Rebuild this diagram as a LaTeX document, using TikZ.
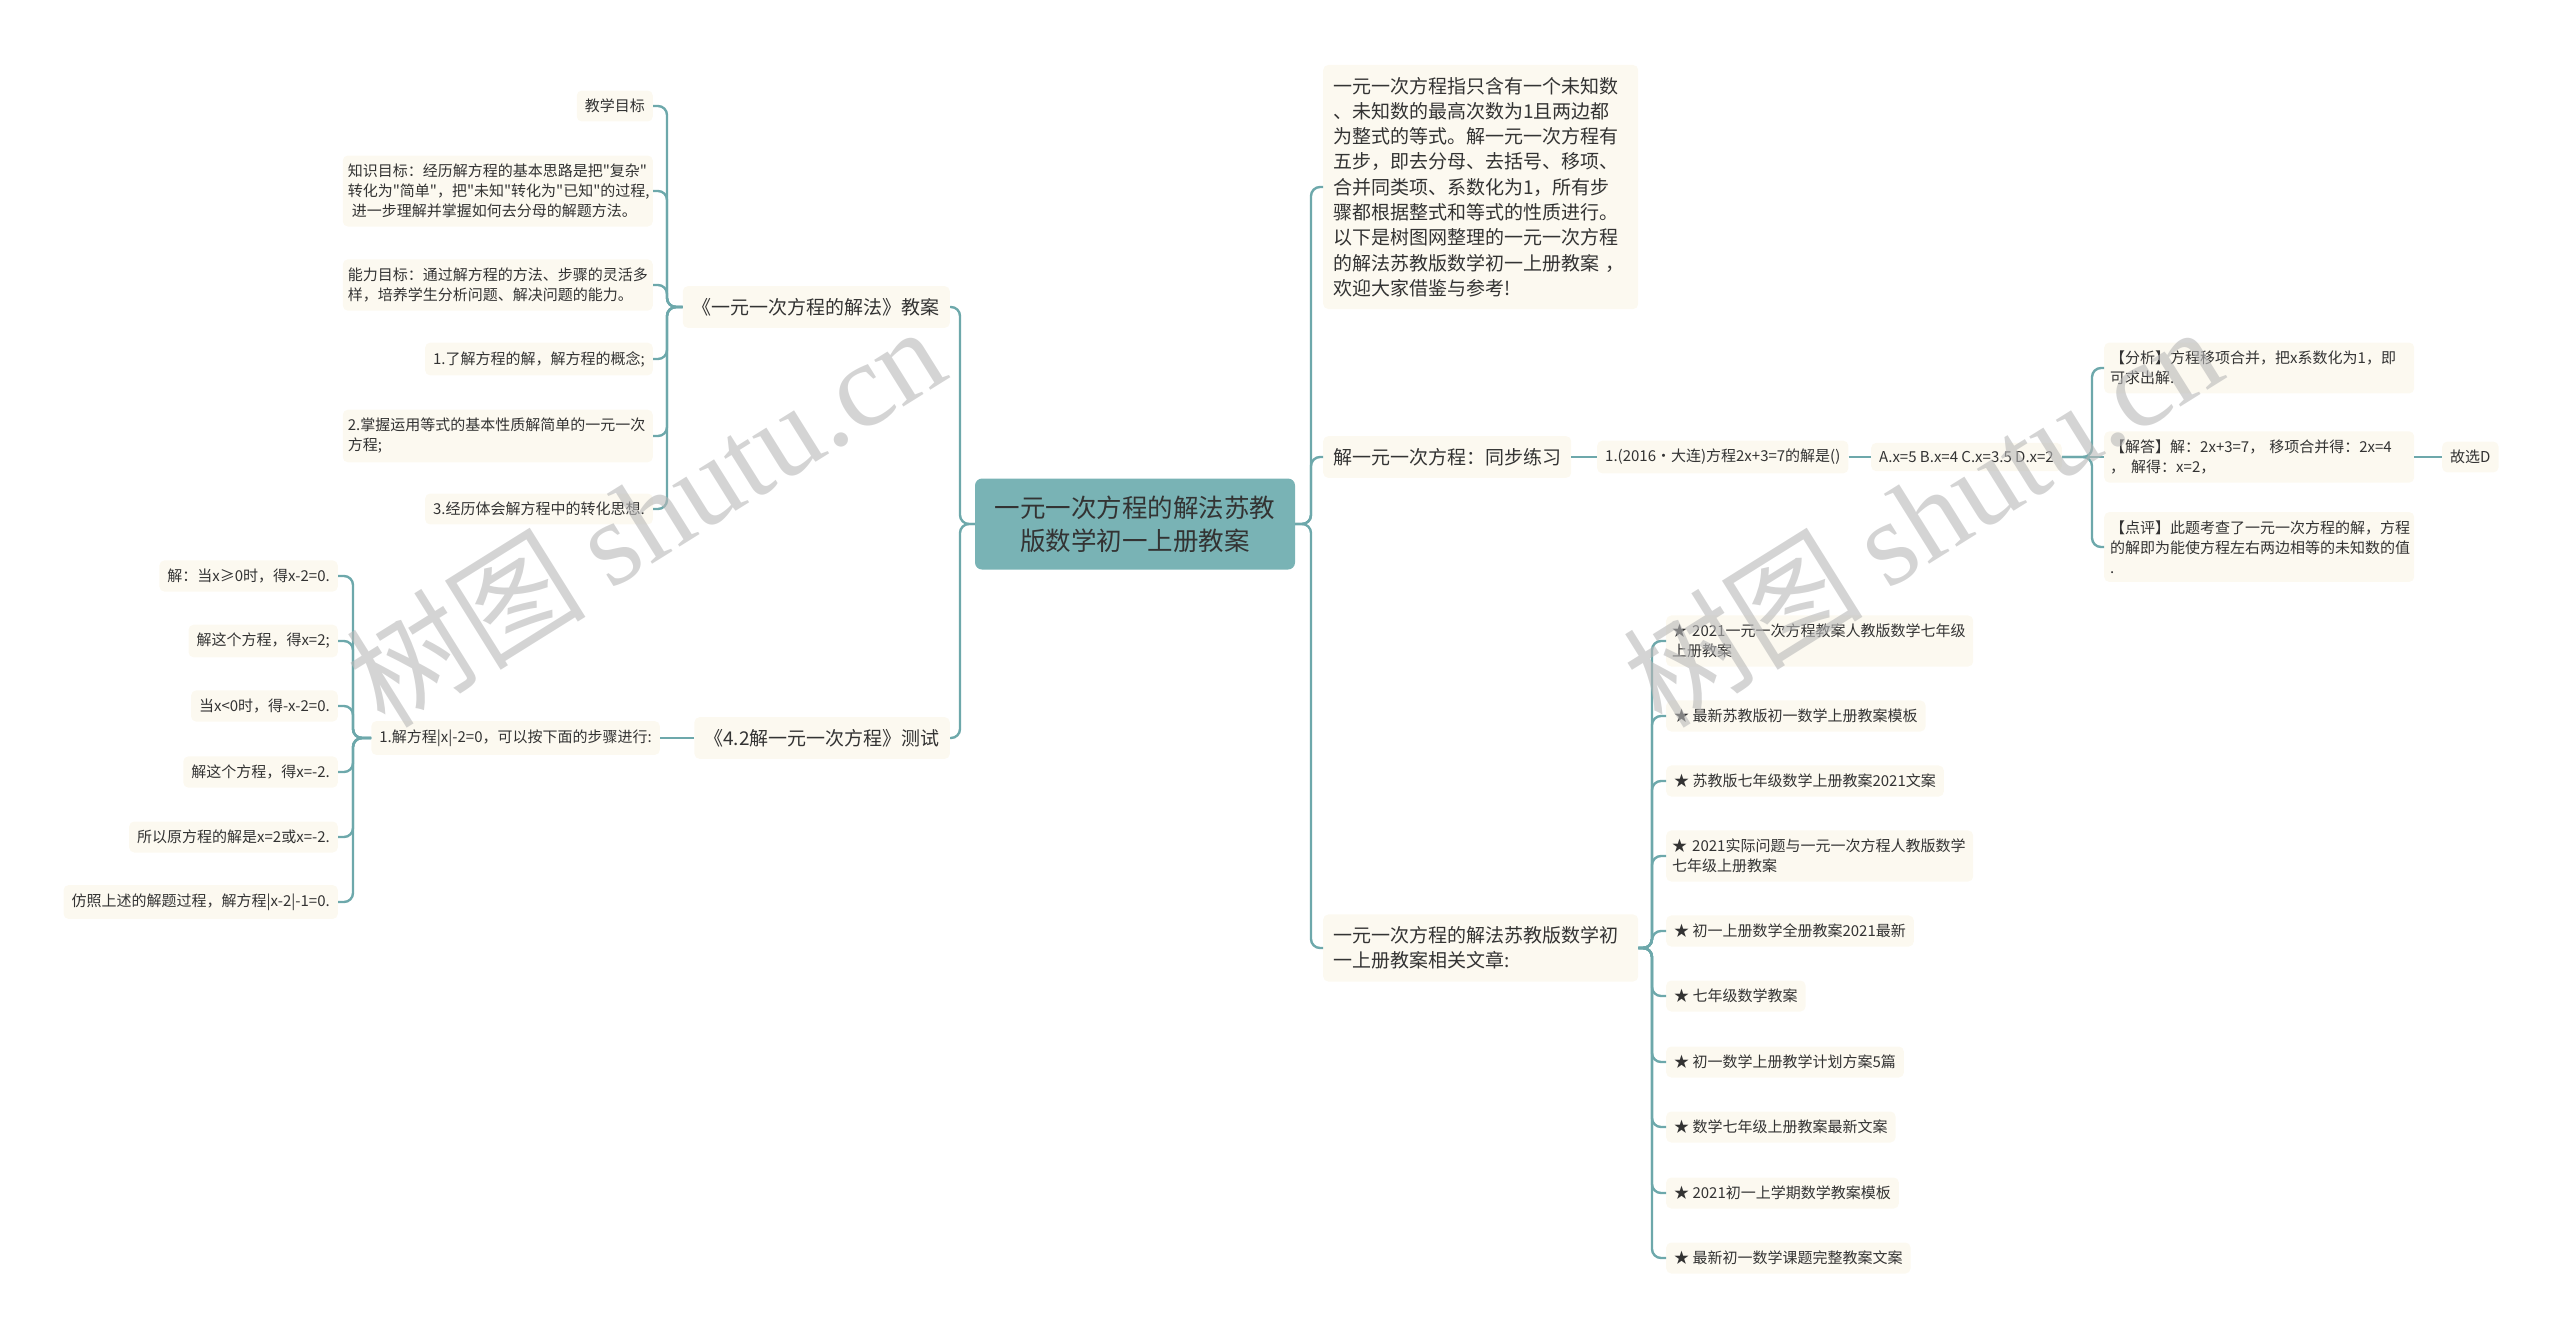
\documentclass[tikz,border=0pt]{standalone}
\usepackage{fontspec}
\newfontfamily\cjk{Noto Sans CJK SC}
\newfontfamily\wmserif{Liberation Serif}
\definecolor{lnk}{HTML}{6DA8AB}
\definecolor{nodefill}{HTML}{FCF9F0}
\definecolor{rootfill}{HTML}{79B3B5}
\definecolor{txt}{HTML}{333333}
\definecolor{wmgray}{HTML}{B8B8B8}
\tikzset{
  conn/.style={draw=lnk, line width=2.4pt, rounded corners=9pt},
  box/.style={fill=nodefill, rounded corners=5pt, text=txt, align=left, inner xsep=8pt, inner ysep=8.5pt, font=\cjk\fontsize{15}{20}\selectfont},
  widebox/.style={box, text width=300pt, inner xsep=5pt},
  midbox/.style={box, inner xsep=10pt, inner ysep=12pt, font=\cjk\fontsize{19}{25.3}\selectfont},
  rootbox/.style={fill=rootfill, rounded corners=7pt, text=txt, align=center, minimum width=320pt, minimum height=91pt, font=\cjk\fontsize{25.5}{33}\selectfont},
  wm/.style={text=wmgray, opacity=0.6, inner sep=0pt, font=\fontsize{120}{120}\selectfont}
}
\begin{document}
\begin{tikzpicture}[x=1pt,y=-1pt]
\useasboundingbox (0,0) rectangle (2560,1339);

% root
\node[rootbox] (root) at (1135,524) {一元一次方程的解法苏教\\版数学初一上册教案};

% left side
\node[midbox, anchor=east] (b1) at (950,307) {《一元一次方程的解法》教案};
\node[midbox, anchor=east] (b2) at (950,738) {《4.2解一元一次方程》测试};

\node[box, anchor=east] (k1) at (653,106) {教学目标};
\node[widebox, anchor=east] (k2) at (653,191) {知识目标：经历解方程的基本思路是把"复杂"\\转化为"简单"，把"未知"转化为"已知"的过程,\\\hspace*{4pt}进一步理解并掌握如何去分母的解题方法。};
\node[widebox, anchor=east] (k3) at (653,285) {能力目标：通过解方程的方法、步骤的灵活多\\样，培养学生分析问题、解决问题的能力。};
\node[box, anchor=east] (k4) at (653,359) {1.了解方程的解，解方程的概念;};
\node[widebox, anchor=east] (k5) at (653,436) {2.掌握运用等式的基本性质解简单的一元一次\\方程;};
\node[box, anchor=east] (k6) at (653,509) {3.经历体会解方程中的转化思想.};

\node[box, anchor=east] (c) at (660,738) {1.解方程|x|-2=0，可以按下面的步骤进行:};
\node[box, anchor=east] (m1) at (338,576) {解：当x≥0时，得x-2=0.};
\node[box, anchor=east] (m2) at (338,641) {解这个方程，得x=2;};
\node[box, anchor=east] (m3) at (338,706) {当x<0时，得-x-2=0.};
\node[box, anchor=east] (m4) at (338,772) {解这个方程，得x=-2.};
\node[box, anchor=east] (m5) at (338,837) {所以原方程的解是x=2或x=-2.};
\node[box, anchor=east] (m6) at (338,902) {仿照上述的解题过程，解方程|x-2|-1=0.};

% right side
\node[midbox, anchor=west, text width=295pt] (p) at (1323,187) {一元一次方程指只含有一个未知数\\、未知数的最高次数为1且两边都\\为整式的等式。解一元一次方程有\\五步，即去分母、去括号、移项、\\合并同类项、系数化为1，所有步\\骤都根据整式和等式的性质进行。\\以下是树图网整理的一元一次方程\\的解法苏教版数学初一上册教案 ，\\欢迎大家借鉴与参考!};
\node[midbox, anchor=west] (s) at (1323,457) {解一元一次方程：同步练习};
\node[box, anchor=west] (q1) at (1597,457) {1.(2016•大连)方程2x+3=7的解是()};
\node[box, anchor=west] (q2) at (1871,457) {A.x=5 B.x=4 C.x=3.5 D.x=2};
\node[box, anchor=west, text width=298pt, inner xsep=6pt] (a1) at (2104,368) {【分析】方程移项合并，把x系数化为1，即\\可求出解.};
\node[box, anchor=west, text width=298pt, inner xsep=6pt] (a2) at (2104,457) {【解答】解：2x+3=7， 移项合并得：2x=4\\，\hspace{6pt}解得：x=2，};
\node[box, anchor=west, text width=298pt, inner xsep=6pt] (a3) at (2104,547) {【点评】此题考查了一元一次方程的解，方程\\的解即为能使方程左右两边相等的未知数的值\\.};
\node[box, anchor=west] (gx) at (2442,457) {故选D};

\node[midbox, anchor=west, text width=295pt] (r) at (1323,948) {一元一次方程的解法苏教版数学初\\一上册教案相关文章:};
\node[box, anchor=west, text width=295pt, inner xsep=6pt] (t1) at (1666,641) {★ 2021一元一次方程教案人教版数学七年级\\上册教案};
\node[box, anchor=west] (t2) at (1666,716) {★ 最新苏教版初一数学上册教案模板};
\node[box, anchor=west] (t3) at (1666,781) {★ 苏教版七年级数学上册教案2021文案};
\node[box, anchor=west, text width=295pt, inner xsep=6pt] (t4) at (1666,856) {★ 2021实际问题与一元一次方程人教版数学\\七年级上册教案};
\node[box, anchor=west] (t5) at (1666,931) {★ 初一上册数学全册教案2021最新};
\node[box, anchor=west] (t6) at (1666,996) {★ 七年级数学教案};
\node[box, anchor=west] (t7) at (1666,1062) {★ 初一数学上册教学计划方案5篇};
\node[box, anchor=west] (t8) at (1666,1127) {★ 数学七年级上册教案最新文案};
\node[box, anchor=west] (t9) at (1666,1193) {★ 2021初一上学期数学教案模板};
\node[box, anchor=west] (t10) at (1666,1258) {★ 最新初一数学课题完整教案文案};

% spines
\coordinate (sL) at (960,0);
\coordinate (s1) at (667,0);
\coordinate (s3) at (353,0);
\coordinate (sR) at (1311,0);
\coordinate (s4) at (2092,0);
\coordinate (s5) at (1652,0);

% connectors
\foreach \n in {b1,b2} \draw[conn] (root.west) -- (root.west -| sL) |- (\n.east);
\foreach \n in {k1,k2,k3,k4,k5,k6} \draw[conn] (b1.west) -- (b1.west -| s1) |- (\n.east);
\draw[conn] (b2.west) -- (c.east);
\foreach \n in {m1,m2,m3,m4,m5,m6} \draw[conn] (c.west) -- (c.west -| s3) |- (\n.east);
\foreach \n in {p,s,r} \draw[conn] (root.east) -- (root.east -| sR) |- (\n.west);
\draw[conn] (s.east) -- (q1.west);
\draw[conn] (q1.east) -- (q2.west);
\foreach \n in {a1,a3} \draw[conn] (q2.east) -- (q2.east -| s4) |- (\n.west);
\draw[conn] (q2.east) -- (a2.west);
\draw[conn] (a2.east) -- (gx.west);
\foreach \n in {t1,t2,t3,t4,t5,t6,t7,t8,t9,t10} \draw[conn] (r.east) -- (r.east -| s5) |- (\n.west);

% watermarks
\node[wm, rotate=32] (w1) at (645,515) {{\cjk 树图}\hspace{25pt}{\wmserif shutu.cn}};
\node[wm, rotate=32] (w2) at (1922,515) {{\cjk 树图}\hspace{25pt}{\wmserif shutu.cn}};
\end{tikzpicture}
\end{document}
